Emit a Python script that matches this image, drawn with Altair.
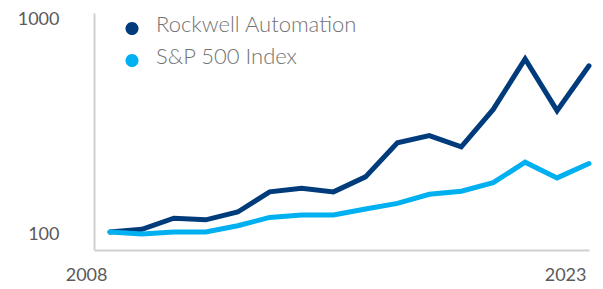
import altair as alt
import pandas as pd

years = list(range(2008, 2024))
rockwell = [100, 103, 116, 114, 124, 154, 160, 154, 181, 261, 282, 250, 374, 643, 369, 598]
sp500 = [100, 98, 100, 100, 107, 117, 120, 120, 128, 136, 150, 155, 170, 212, 179, 209]
series_names = ["Rockwell Automation", "S&P 500 Index"]
series_colors = ["#003B7C", "#00B0F0"]
y_ticks = [100, 1000]
x_ticks = [2008, 2023]

df = pd.DataFrame({
    "year": years + years,
    "value": rockwell + sp500,
    "series": [series_names[0]] * len(years) + [series_names[1]] * len(years),
})

FONT = "Lato"
AXIS_COLOR = "#d0d0d0"
LABEL_COLOR = "#5a5a5a"

x_enc = alt.X(
    "year:Q",
    scale=alt.Scale(domain=[2007.5, 2023], nice=False, zero=False),
    axis=alt.Axis(
        values=x_ticks, format="d", title=None, grid=False, ticks=False,
        labelAlign="right", labelOffset=-3, labelPadding=16, labelFontSize=18,
        labelFont=FONT, labelColor=LABEL_COLOR, domainColor=AXIS_COLOR,
        domainWidth=2, labelOverlap=False,
    ),
)
y_enc = alt.Y(
    "value:Q",
    scale=alt.Scale(type="log", domain=[82.4, 1055], nice=False),
    axis=alt.Axis(
        values=y_ticks, format="d", title=None, grid=False, ticks=False,
        labelPadding=35, labelFontSize=18, labelFont=FONT,
        labelColor=LABEL_COLOR, domainColor=AXIS_COLOR, domainWidth=2,
        labelBaseline="top", labelOffset=-7, labelOverlap=False,
    ),
)
color_scale = alt.Scale(domain=series_names, range=series_colors)

legend_src = alt.Chart(df).mark_circle(size=0, opacity=1).encode(
    x=x_enc, y=y_enc,
    color=alt.Color(
        "series:N", scale=color_scale,
        legend=alt.Legend(
            title=None, orient="none", legendX=27, legendY=1, padding=0,
            symbolType="M-1,0.55A1,1,0,1,1,1,0.55A1,1,0,1,1,-1,0.55Z",
            symbolSize=170, symbolStrokeWidth=0, symbolOpacity=1,
            labelFont=FONT, labelFontSize=22, labelFontWeight=300,
            labelColor="#737373", labelOffset=13, rowPadding=10,
            labelLimit=400,
        ),
    ),
)

lines = alt.Chart(df).mark_line(
    strokeWidth=5, strokeCap="round", strokeJoin="miter", clip=False
).encode(
    x=x_enc, y=y_enc,
    color=alt.Color("series:N", scale=color_scale, legend=None),
)

chart = alt.layer(legend_src, lines).properties(
    width=495, height=237,
    autosize=alt.AutoSizeParams(type="none"),
    padding={"left": 86, "top": 5, "right": 6, "bottom": 35},
).configure_view(stroke=None)

chart.save("out.html", embed_options={"renderer": "svg", "actions": False})
